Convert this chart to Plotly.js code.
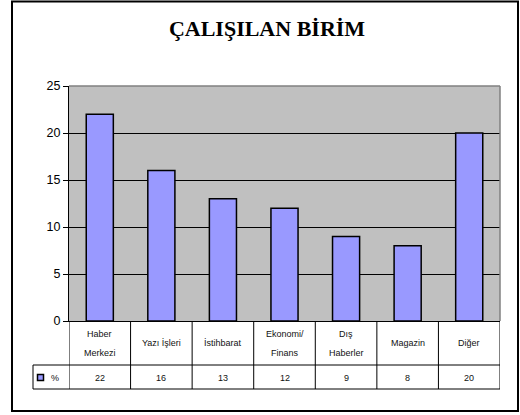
<!DOCTYPE html>
<html><head><meta charset="utf-8">
<script src="https://cdn.plot.ly/plotly-3.0.1.min.js"></script>
<style>html,body{margin:0;padding:0;background:#fff}#c{width:520px;height:415px}</style>
</head><body><div id="c"></div>
<script>
const categories = ['Haber Merkezi','Yazı İşleri','İstihbarat','Ekonomi/Finans','Dış Haberler','Magazin','Diğer'];
const labelLine1 = ['Haber','Yazı İşleri','İstihbarat','Ekonomi/','Dış','Magazin','Diğer'];
const labelLine2 = ['Merkezi','','','Finans','Haberler','',''];
const values = [22,16,13,12,9,8,20];
const seriesName = '%';
const yTicks = [0,5,10,15,20,25];

const W=520,H=415,L=69,R=20,T=86,B=94;
const pw=W-L-R, ph=H-T-B;
const py = p => (H-B-p)/ph;   // pixel y -> paper y
const px = p => (p-L)/pw;     // pixel x -> paper x
const n = categories.length;

const shapes = [];
const annotations = [];
const f9 = {family:'Liberation Sans, Arial, sans-serif', size:9, color:'#111'};

// outer border
shapes.push({type:'rect', xref:'paper', yref:'paper', x0:px(12), x1:px(518), y0:py(411), y1:py(1.5), line:{color:'#000', width:2}});
// plot area top/right border (grey)
shapes.push({type:'line', xref:'paper', yref:'paper', x0:0, x1:1, y0:1, y1:1, line:{color:'#808080', width:1.5}});
shapes.push({type:'line', xref:'paper', yref:'paper', x0:1, x1:1, y0:0, y1:1, line:{color:'#808080', width:1.5}});
// table horizontal lines
shapes.push({type:'line', xref:'paper', yref:'paper', x0:px(33), x1:1, y0:py(365), y1:py(365), line:{color:'#000', width:1}});
shapes.push({type:'line', xref:'paper', yref:'paper', x0:px(33), x1:1, y0:py(389), y1:py(389), line:{color:'#000', width:1}});
shapes.push({type:'line', xref:'paper', yref:'paper', x0:px(33), x1:px(33), y0:py(365), y1:py(389), line:{color:'#000', width:1}});
// column separators
for (let i=0;i<=n;i++){
  shapes.push({type:'line', xref:'x', yref:'paper', x0:i-0.5, x1:i-0.5, y0:0, y1:py(389), line:{color:'#000', width:1}});
}
// legend key
shapes.push({type:'rect', xref:'paper', yref:'paper', x0:px(37.5), x1:px(43.5), y0:py(380.5), y1:py(374.5), fillcolor:'#9999FF', line:{color:'#000', width:1.5}});
annotations.push({xref:'paper', yref:'paper', x:px(49), y:py(377.5), text:seriesName, showarrow:false, xanchor:'left', yanchor:'middle', font:f9});

for (let i=0;i<n;i++){
  if (labelLine2[i]) {
    annotations.push({xref:'x', yref:'paper', x:categories[i], y:py(334), text:labelLine1[i], showarrow:false, yanchor:'middle', font:f9});
    annotations.push({xref:'x', yref:'paper', x:categories[i], y:py(353), text:labelLine2[i], showarrow:false, yanchor:'middle', font:f9});
  } else {
    annotations.push({xref:'x', yref:'paper', x:categories[i], y:py(343), text:labelLine1[i], showarrow:false, yanchor:'middle', font:f9});
  }
  annotations.push({xref:'x', yref:'paper', x:categories[i], y:py(377.5), text:String(values[i]), showarrow:false, yanchor:'middle', font:f9});
}

const trace = {
  type:'bar', x:categories, y:values, name:seriesName,
  marker:{color:'#9999FF', line:{color:'#000', width:1.5}},
  width:0.44, hoverinfo:'skip'
};

const layout = {
  width:W, height:H,
  margin:{l:L, r:R, t:T, b:B, pad:0},
  paper_bgcolor:'#fff', plot_bgcolor:'#C0C0C0',
  showlegend:false,
  title:{text:'ÇALIŞILAN BİRİM', x:267/520, xref:'container', xanchor:'center', y:0.933, yref:'container', yanchor:'middle',
         font:{family:'Liberation Serif, Times New Roman, serif', size:22, color:'#000', weight:'bold'}},
  xaxis:{type:'category', range:[-0.5,n-0.5], showticklabels:false, ticks:'', showgrid:false,
         showline:true, linecolor:'#000', linewidth:1, zeroline:false, fixedrange:true},
  yaxis:{range:[0,25], tickvals:yTicks, ticks:'outside', ticklen:5, tickcolor:'#000', tickwidth:1,
         showline:true, linecolor:'#000', linewidth:1, showgrid:true, gridcolor:'#000', gridwidth:1,
         zeroline:false, tickfont:{family:'Liberation Sans, Arial, sans-serif', size:12.5, color:'#000'},
         fixedrange:true},
  shapes:shapes, annotations:annotations
};
Plotly.newPlot('c',[trace],layout,{staticPlot:true});
</script></body></html>
